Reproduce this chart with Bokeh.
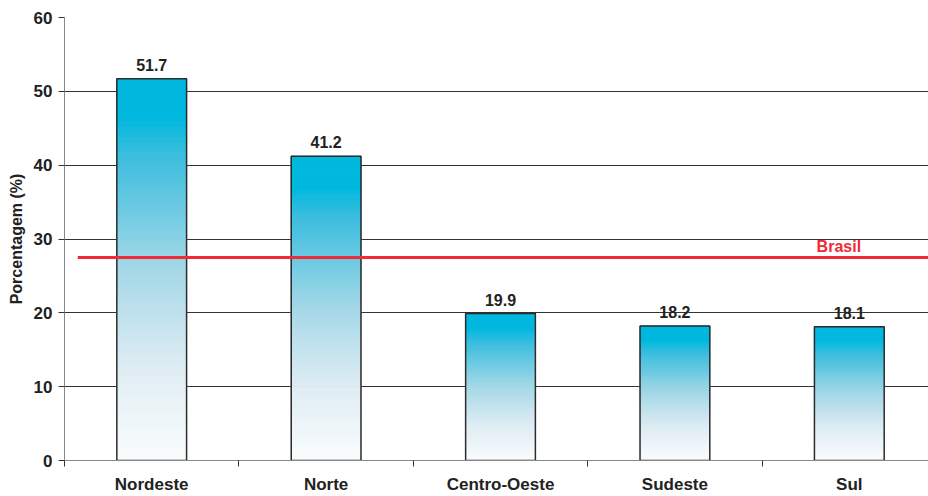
from bokeh.plotting import figure
from bokeh.models import Range1d, FixedTicker, ColumnDataSource, Label
from bokeh.core.properties import value
from bokeh.embed import file_html
from bokeh.resources import INLINE

regions = ["Nordeste", "Norte", "Centro-Oeste", "Sudeste", "Sul"]
values = [51.7, 41.2, 19.9, 18.2, 18.1]
brasil = 27.5
y_ticks = [0, 10, 20, 30, 40, 50, 60]

FONT = "Liberation Sans"
BAR_W = 0.40
N = 90

# gradient colour stops (t = 0 bottom, 1 top)
stops = [(0.0, (250, 252, 253)), (0.25, (222, 236, 243)), (0.5, (165, 216, 231)),
         (0.8, (60, 190, 222)), (0.9, (0, 184, 222)), (1.0, (0, 184, 222))]

def grad(t):
    for (t0, c0), (t1, c1) in zip(stops[:-1], stops[1:]):
        if t <= t1:
            f = (t - t0) / (t1 - t0) if t1 > t0 else 0
            return "#%02x%02x%02x" % tuple(int(round(a + (b - a) * f)) for a, b in zip(c0, c1))
    return "#%02x%02x%02x" % stops[-1][1]

xs = [i + 0.5 for i in range(len(regions))]

p = figure(width=928, height=496, output_backend="svg", toolbar_location=None,
           x_range=Range1d(0, 4.954), y_range=Range1d(0, 60),
           min_border_left=64, min_border_right=0, min_border_top=17, min_border_bottom=36)
p.outline_line_color = None
p.background_fill_color = "white"

# grid
p.xgrid.visible = False
p.ygrid.ticker = FixedTicker(ticks=y_ticks[1:])
p.ygrid.grid_line_color = "#333333"
p.ygrid.grid_line_width = 1

# gradient bars
L, R, B, T, C = [], [], [], [], []
for x, v in zip(xs, values):
    for k in range(N):
        L.append(x - BAR_W / 2)
        R.append(x + BAR_W / 2)
        B.append(v * k / N)
        T.append(v * (k + 1) / N)
        C.append(grad((k + 0.5) / N))
p.quad(left=L, right=R, bottom=B, top=T, fill_color=C, line_color=C, line_width=1)
p.quad(left=[x - BAR_W / 2 for x in xs], right=[x + BAR_W / 2 for x in xs],
       bottom=0, top=values, fill_color=None, line_color="#2b2b2b", line_width=1.5)

# value labels
src = ColumnDataSource(dict(x=xs, y=values, t=["%.1f" % v for v in values]))
p.text(x="x", y="y", text="t", source=src, text_align="center", text_baseline="bottom",
       y_offset=-8, text_font=value(FONT), text_font_style="bold",
       text_font_size="16px", text_color="#222222")

# Brasil line
p.segment(x0=[0.076], x1=[5.0], y0=[brasil], y1=[brasil], line_color="#ee2b36", line_width=3)
p.add_layout(Label(x=4.44, y=brasil, text="Brasil", text_align="center", text_baseline="bottom",
                   y_offset=2, text_font=FONT, text_font_style="bold", text_font_size="16px",
                   text_color="#ee2b36"))

# y axis
ya = p.yaxis[0]
ya.ticker = FixedTicker(ticks=y_ticks)
ya.axis_line_color = "#888888"
ya.major_tick_line_color = "#333333"
ya.major_tick_out = 6
ya.major_tick_in = 0
ya.minor_tick_line_color = None
ya.major_label_standoff = 6
ya.major_label_text_font = FONT
ya.major_label_text_font_style = "bold"
ya.major_label_text_font_size = "17px"
ya.major_label_text_color = "#222222"
ya.axis_label = "Porcentagem (%)"
ya.axis_label_text_font = FONT
ya.axis_label_text_font_style = "bold"
ya.axis_label_text_font_size = "16px"
ya.axis_label_text_color = "#222222"
ya.axis_label_standoff = 6

# x axis: boundary ticks (minor) and category names at centres
xa = p.xaxis[0]
xa.ticker = FixedTicker(ticks=xs, minor_ticks=list(range(len(regions) + 1)))
xa.major_label_overrides = {x: r for x, r in zip(xs, regions)}
xa.axis_line_color = "#888888"
xa.major_tick_line_color = None
xa.major_tick_out = 0
xa.major_tick_in = 0
xa.minor_tick_line_color = "#333333"
xa.minor_tick_out = 6
xa.minor_tick_in = 0
xa.major_label_standoff = 8
xa.major_label_text_font = FONT
xa.major_label_text_font_style = "bold"
xa.major_label_text_font_size = "17px"
xa.major_label_text_color = "#222222"

open("out.html", "w").write(file_html(p, INLINE))
